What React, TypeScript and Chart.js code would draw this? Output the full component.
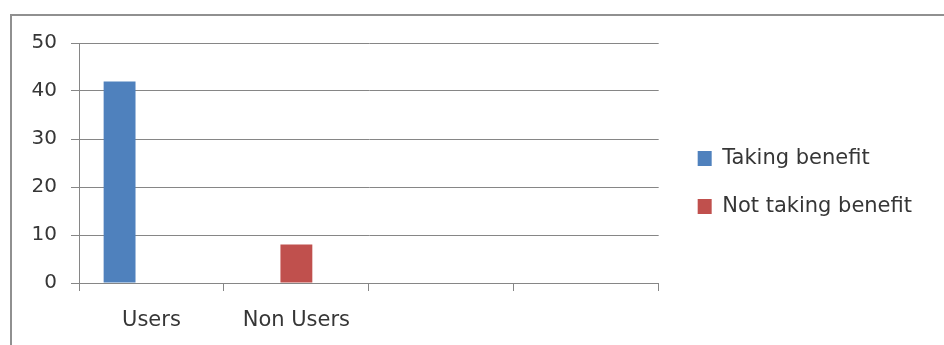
import React, { useEffect, useRef } from "react";
import { Chart, registerables } from "chart.js";

Chart.register(...registerables);

const categories = ["Users", "Non Users", "", ""];
const takingBenefit = [42, null, null, null];
const notTakingBenefit = [null, 8, null, null];
const emptySeries = [null, null, null, null];
const seriesNames = ["Taking benefit", "Not taking benefit", "Series3"];
const yMin = 0;
const yMax = 50;
const yStep = 10;

const FONT = "'DejaVu Sans', sans-serif";
const TEXT = "#363636";
const LINE = "#868686";

export default function App() {
  const ref = useRef<HTMLCanvasElement | null>(null);

  useEffect(() => {
    if (!ref.current) return;
    const chart = new Chart(ref.current, {
      type: "bar",
      data: {
        labels: categories,
        datasets: [
          { label: seriesNames[0], data: takingBenefit, backgroundColor: "#4F81BD" },
          { label: seriesNames[1], data: notTakingBenefit, backgroundColor: "#C0504D" },
          { label: seriesNames[2], data: emptySeries, backgroundColor: "#9BBB59" },
        ],
      },
      options: {
        responsive: false,
        animation: false,
        layout: { padding: { top: 43, bottom: 0, left: 10, right: 22 } },
        datasets: { bar: { categoryPercentage: 0.66, barPercentage: 1, borderWidth: 0 } },
        plugins: {
          tooltip: { enabled: false },
          legend: {
            position: "right",
            align: "start",
            maxWidth: 400,
            title: {
              display: true,
              text: "",
              font: { size: 10, lineHeight: 1 },
              padding: { top: 68, bottom: 0 },
            },
            labels: {
              font: { family: FONT, size: 21 },
              color: TEXT,
              boxWidth: 14,
              boxHeight: 15,
              padding: 27,
              filter: (item) => item.datasetIndex !== 2,
            },
          },
        },
        scales: {
          x: {
            offset: true,
            grid: {
              offset: true,
              drawOnChartArea: false,
              drawTicks: true,
              tickLength: 8,
              color: LINE,
            },
            border: { display: true, color: LINE },
            ticks: { font: { family: FONT, size: 21 }, color: TEXT, padding: 17 },
            afterFit: (s: any) => {
              s.height = 62;
            },
          },
          y: {
            min: yMin,
            max: yMax,
            ticks: { stepSize: yStep, font: { family: FONT, size: 20 }, color: TEXT, padding: 14 },
            grid: { color: LINE, tickLength: 8 },
            border: { display: true, color: LINE },
            afterFit: (s: any) => {
              s.width = 69;
            },
          },
          spacer: {
            type: "linear",
            position: "right",
            display: true,
            grid: { display: false },
            ticks: { display: false },
            border: { display: false },
            afterFit: (s: any) => {
              s.width = 12;
            },
          },
        },
      },
    });
    return () => chart.destroy();
  }, []);

  return (
    <div style={{ position: "absolute", left: 0, top: 0, width: 944, height: 345, overflow: "hidden", background: "#fff" }}>
      <div
        style={{
          position: "absolute",
          left: 10,
          top: 14,
          width: 960,
          height: 360,
          borderLeft: "2px solid #909090",
          borderTop: "2px solid #909090",
          boxSizing: "border-box",
        }}
      />
      <canvas ref={ref} width={944} height={345} style={{ position: "absolute", left: 0, top: 0 }} />
    </div>
  );
}
